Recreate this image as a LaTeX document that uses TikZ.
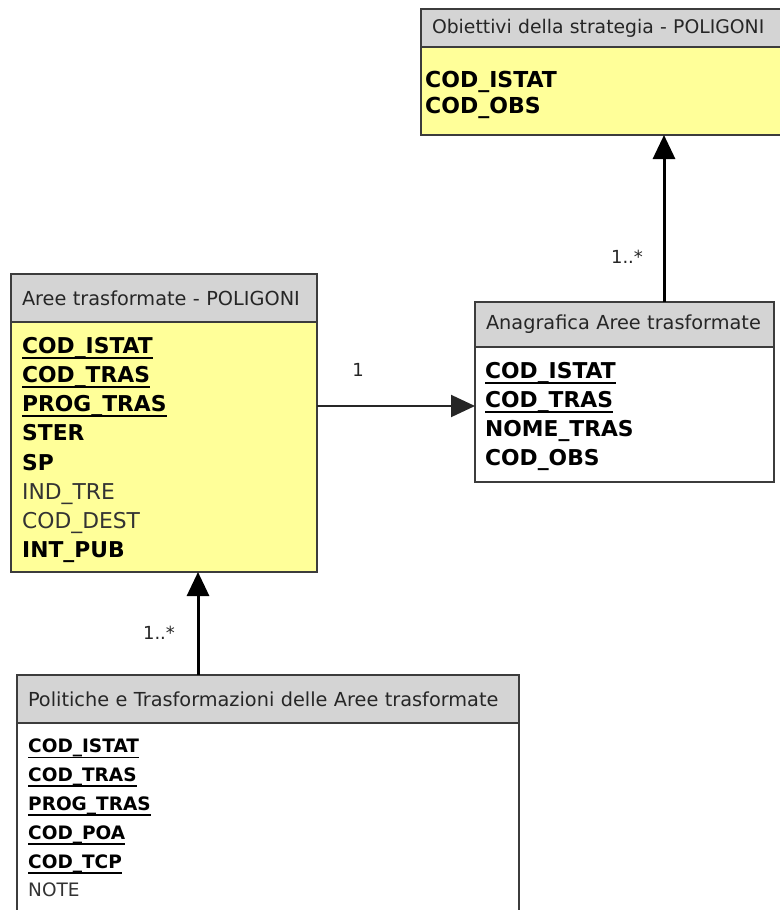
\documentclass[tikz,border=0pt]{standalone}
\usepackage{fontspec}
\setmainfont{DejaVu Sans}
\usetikzlibrary{arrows.meta, positioning}

\definecolor{headgray}{RGB}{212,212,212}
\definecolor{entyellow}{RGB}{255,255,153}
\definecolor{edgegray}{RGB}{60,60,60}

% primary key fields are underlined
\newsavebox{\keybox}
\newcommand{\keyfld}[1]{\sbox\keybox{#1}\rlap{\raisebox{-5.4pt}{\rule{\wd\keybox}{1.8pt}}}\usebox\keybox}
\newcommand{\plainfld}[1]{{\mdseries\color{black!80}#1}}

\tikzset{
  headbox/.style={draw=edgegray, line width=1.3pt, fill=headgray, anchor=north west,
    inner xsep=11pt, inner ysep=0pt, outer sep=0pt, align=left, text=black!85,
    font=\fontsize{19.3}{22}\selectfont},
  bodybox/.style={draw=edgegray, line width=1.3pt, inner sep=0pt, outer sep=0pt},
  fields/.style={inner sep=0pt, align=left, font=\fontsize{21.8}{29.2}\selectfont\bfseries},
  assoc/.style={line width=3pt, -{Triangle[length=24pt,width=22pt]}},
  mult/.style={text=black!85, font=\fontsize{18}{20}\selectfont},
}

\begin{document}
\begin{tikzpicture}[x=1pt,y=-1pt]
  \useasboundingbox (0,0) rectangle (779,910);

  % Obiettivi della strategia
  \node[headbox, text width=339pt, minimum height=38pt, font=\fontsize{18.8}{22}\selectfont] (obiettiviH) at (421,9) {Obiettivi della strategia - POLIGONI};
  \node[bodybox, fill=entyellow, minimum width=361pt, minimum height=88pt, below=0pt of obiettiviH] (obiettivi) {};
  \node[fields, font=\fontsize{22}{26}\selectfont\bfseries, below right=24pt and 4pt of obiettivi.north west] (obiettiviF)
    {COD\_ISTAT\\COD\_OBS};

  % Aree trasformate
  \node[headbox, text width=284pt, minimum height=48pt] (areeH) at (11,274) {Aree trasformate - POLIGONI};
  \node[bodybox, fill=entyellow, minimum width=306pt, minimum height=250pt, below=0pt of areeH] (aree) {};
  \node[fields, below right=15pt and 11pt of aree.north west] (areeF)
    {\keyfld{COD\_ISTAT}\\\keyfld{COD\_TRAS}\\\keyfld{PROG\_TRAS}\\STER\\SP\\
     \plainfld{IND\_TRE}\\\plainfld{COD\_DEST}\\INT\_PUB};

  % Anagrafica
  \node[headbox, text width=277pt, minimum height=45pt] (anagH) at (475,302) {Anagrafica Aree trasformate};
  \node[bodybox, fill=white, minimum width=299pt, minimum height=135pt, below=0pt of anagH] (anag) {};
  \node[fields, font=\fontsize{21.8}{29}\selectfont\bfseries, below right=15pt and 10pt of anag.north west] (anagF)
    {\keyfld{COD\_ISTAT}\\\keyfld{COD\_TRAS}\\NOME\_TRAS\\COD\_OBS};

  % Politiche e trasformazioni
  \node[headbox, text width=480pt, minimum height=48pt] (politicheH) at (17,675) {Politiche e Trasformazioni delle Aree trasformate};
  \node[bodybox, fill=white, minimum width=502pt, minimum height=207pt, below=0pt of politicheH] (politiche) {};
  \node[fields, font=\fontsize{18.5}{28.8}\selectfont\bfseries, below right=16pt and 11pt of politiche.north west] (politicheF)
    {\keyfld{COD\_ISTAT}\\\keyfld{COD\_TRAS}\\\keyfld{PROG\_TRAS}\\\keyfld{COD\_POA}\\\keyfld{COD\_TCP}\\
     \plainfld{NOTE}};

  % associations
  \draw[assoc, line width=2pt, black!85] (aree.east |- 0,406) -- (anag.west |- 0,406);
  \draw[assoc] (anagH.north -| 664,0) -- (obiettivi.south -| 664,0);
  \draw[assoc] (politicheH.north -| 198,0) -- (aree.south -| 198,0);

  % multiplicities
  \node[mult] (multAnag) at (358,370) {1};
  \node[mult] (multObiettivi) at (627,257) {1..*};
  \node[mult] (multAree) at (159,633) {1..*};
\end{tikzpicture}
\end{document}
